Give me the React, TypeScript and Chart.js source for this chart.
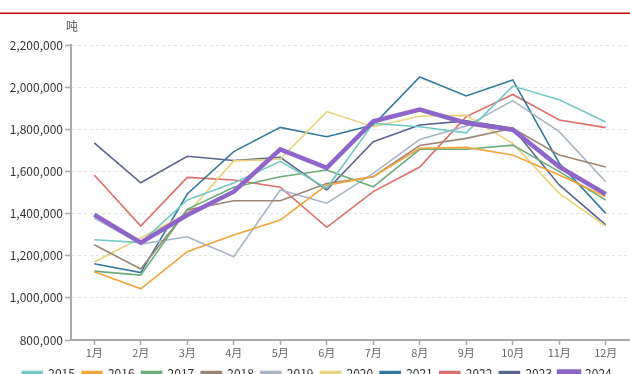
import { useEffect, useRef } from 'react';
import { Chart, registerables } from 'chart.js';

Chart.register(...registerables);

// Monthly output, tonnes
const months = ['1月', '2月', '3月', '4月', '5月', '6月', '7月', '8月', '9月', '10月', '11月', '12月'];
const years = ['2015', '2016', '2017', '2018', '2019', '2020', '2021', '2022', '2023', '2024'];

const v2015 = [1276000, 1262000, 1465000, 1545000, 1648000, 1521000, 1828000, 1812000, 1783000, 2005000, 1940000, 1835000];
const v2016 = [1124000, 1043000, 1219000, 1298000, 1369000, 1535000, 1575000, 1710000, 1714000, 1678000, 1583000, 1480000];
const v2017 = [1127000, 1108000, 1420000, 1525000, 1575000, 1607000, 1527000, 1705000, 1705000, 1725000, 1599000, 1464000];
const v2018 = [1252000, 1137000, 1417000, 1461000, 1461000, 1543000, 1575000, 1723000, 1757000, 1805000, 1678000, 1621000];
const v2019 = [1379000, 1255000, 1290000, 1195000, 1512000, 1449000, 1591000, 1752000, 1815000, 1936000, 1789000, 1551000];
const v2020 = [1170000, 1284000, 1400000, 1650000, 1658000, 1884000, 1812000, 1862000, 1866000, 1733000, 1496000, 1340000];
const v2021 = [1162000, 1120000, 1493000, 1694000, 1809000, 1765000, 1820000, 2048000, 1958000, 2034000, 1639000, 1401000];
const v2022 = [1583000, 1341000, 1572000, 1559000, 1525000, 1335000, 1504000, 1621000, 1860000, 1965000, 1844000, 1808000];
const v2023 = [1735000, 1546000, 1672000, 1652000, 1667000, 1512000, 1741000, 1820000, 1840000, 1805000, 1536000, 1346000];
const v2024 = [1395000, 1262000, 1393000, 1504000, 1705000, 1617000, 1838000, 1893000, 1830000, 1798000, 1622000, 1492000];

const seriesValues = [v2015, v2016, v2017, v2018, v2019, v2020, v2021, v2022, v2023, v2024];
const seriesColors = ['#72c9c6', '#f3a43b', '#6aad78', '#9d8573', '#a7b4c6', '#ead27b', '#33799c', '#de6e6a', '#5a668f', '#8e65c9'];

const yMin = 800000;
const yMax = 2200000;
const yStep = 200000;
const unitLabel = '吨';

const FONT = '"Noto Sans CJK SC", "Noto Sans", sans-serif';

const decorPlugin = {
  id: 'decor',
  afterDraw(chart: any) {
    const { ctx, chartArea } = chart;
    ctx.save();
    // red header rule
    ctx.fillStyle = '#c00000';
    ctx.fillRect(0, 12.5, chart.width, 1.5);
    // unit above the value axis
    ctx.font = `12px ${FONT}`;
    ctx.fillStyle = '#555555';
    ctx.textAlign = 'left';
    ctx.textBaseline = 'middle';
    ctx.fillText(unitLabel, chartArea.left - 5, chartArea.top - 19);
    ctx.restore();
  },
};

export default function App() {
  const canvasRef = useRef<HTMLCanvasElement>(null);

  useEffect(() => {
    document.body.style.margin = '0';
    const canvas = canvasRef.current;
    if (!canvas) return;

    const datasets = years.map((year, i) => {
      const isLatest = i === years.length - 1;
      return {
        label: year,
        data: seriesValues[i],
        borderColor: seriesColors[i],
        backgroundColor: seriesColors[i],
        borderWidth: isLatest ? 4.5 : 1.6,
        pointRadius: 0,
        pointHoverRadius: 0,
        tension: 0,
        fill: false,
        order: isLatest ? -1 : 0,
      };
    });

    const chart = new Chart(canvas, {
      type: 'line',
      data: { labels: months, datasets },
      options: {
        responsive: false,
        animation: false,
        devicePixelRatio: 1,
        layout: { padding: { top: 45, left: 5, right: 1, bottom: 0 } },
        plugins: {
          tooltip: { enabled: false },
          legend: {
            position: 'bottom',
            align: 'center',
            labels: {
              boxWidth: 20,
              boxHeight: 3,
              padding: 7,
              color: '#333333',
              font: { size: 12, family: FONT },
              sort: (a: any, b: any) => a.datasetIndex - b.datasetIndex,
            },
          },
        },
        scales: {
          x: {
            offset: true,
            grid: {
              display: true,
              drawOnChartArea: false,
              drawTicks: true,
              tickLength: 5,
              tickColor: '#aaaaaa',
              tickWidth: 1.5,
            },
            border: { display: true, color: '#aaaaaa', width: 2 },
            ticks: {
              color: '#666666',
              padding: 2,
              font: { size: 11, family: FONT, lineHeight: 1 },
              maxRotation: 0,
              autoSkip: false,
            },
          },
          y: {
            min: yMin,
            max: yMax,
            afterFit: (scale: any) => {
              scale.width = 66;
            },
            grid: {
              color: '#e3e3e3',
              lineWidth: 1,
              drawTicks: true,
              tickLength: 6,
              tickColor: '#aaaaaa',
              tickWidth: 1.5,
            },
            border: { display: true, color: '#aaaaaa', width: 2, dash: [3, 3] },
            ticks: {
              stepSize: yStep,
              color: '#333333',
              padding: 2,
              font: { size: 12, family: FONT },
              callback: (value: any) => Number(value).toLocaleString('en-US'),
            },
          },
        },
      },
      plugins: [decorPlugin],
    });

    return () => chart.destroy();
  }, []);

  return (
    <div style={{ width: 630, height: 374, overflow: 'hidden', position: 'relative', background: '#ffffff' }}>
      <canvas ref={canvasRef} width={630} height={389} style={{ display: 'block' }} />
    </div>
  );
}
